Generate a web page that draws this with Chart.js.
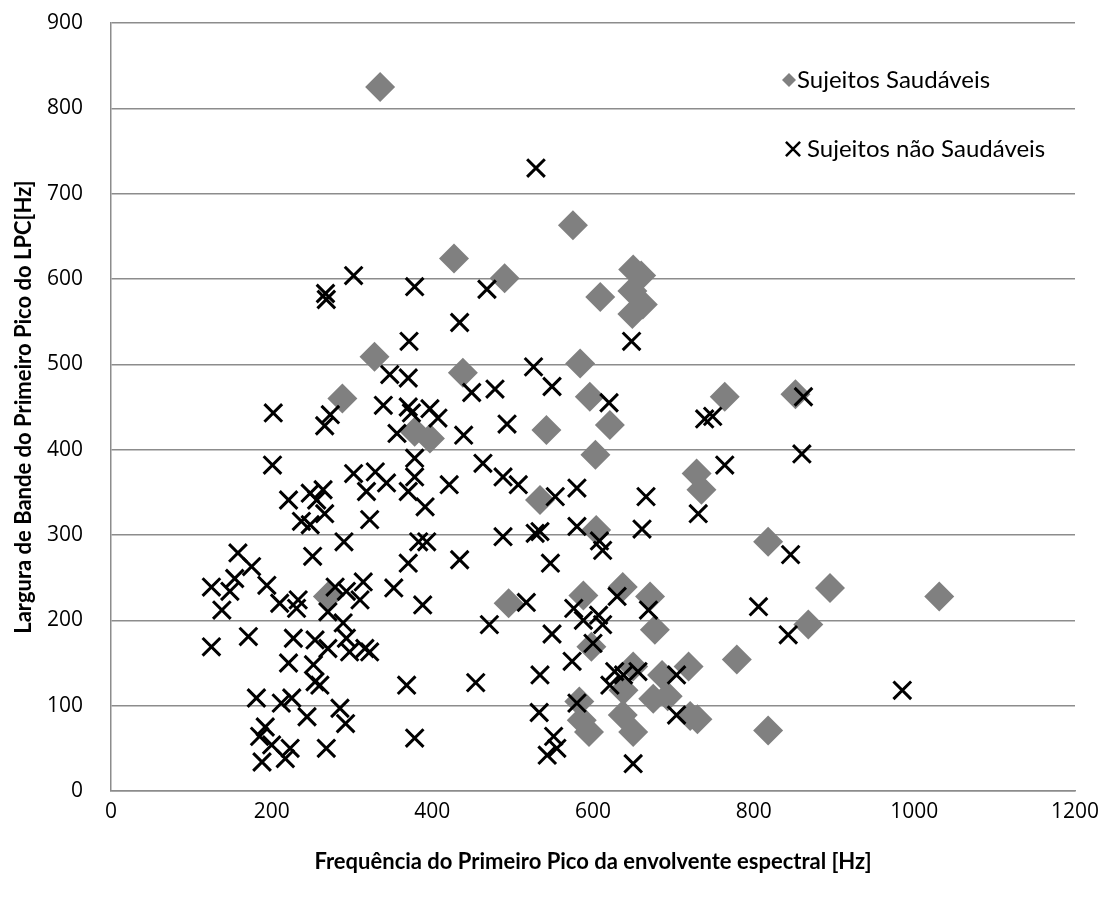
<!DOCTYPE html>
<html>
<head>
<meta charset="utf-8">
<script src="https://cdn.jsdelivr.net/npm/chart.js@4.4.1/dist/chart.umd.min.js"></script>
<style>
  html, body { margin: 0; padding: 0; background: #ffffff; }
  #wrap { width: 1104px; height: 901px; position: relative; }
</style>
</head>
<body>
<div id="wrap"><canvas id="c" width="1104" height="901"></canvas></div>
<script>
// ---- Data ----
const seriesNames = ['Sujeitos Saudáveis', 'Sujeitos não Saudáveis'];

const healthyX = [335, 575, 427, 490, 650, 660, 649, 609, 662, 649,
                  328, 438, 584, 288, 596, 378, 397, 542, 621, 603,
                  764, 852, 534, 604, 818, 729, 735, 495, 588, 637,
                  671, 677, 598, 650, 686, 719, 675, 693, 637, 650,
                  595, 583, 586, 721, 730, 779, 818, 868, 895, 1031,
                  270, 638];
const healthyY = [825, 663, 624, 601, 611, 604, 586, 579, 570, 559,
                  509, 490, 501, 460, 462, 421, 413, 423, 429, 394,
                  462, 465, 341, 306, 292, 372, 353, 220, 229, 239,
                  228, 189, 169, 146, 136, 146, 108, 111, 89, 69,
                  69, 105, 83, 88, 84, 154, 71, 195, 238, 228,
                  228, 118];

const unhealthyX = [529, 267, 268, 302, 378, 468, 434, 371, 347, 370,
                    449, 478, 526, 549, 339, 370, 374, 397, 407, 356,
                    439, 493, 378, 378, 370, 391, 463, 488, 507, 421,
                    302, 329, 343, 318, 322, 553, 580, 488, 528, 534,
                    580, 290, 383, 393, 202, 273, 266, 201, 221, 248,
                    264, 256, 266, 237, 248, 158, 251, 175, 154, 125,
                    148, 194, 138, 210, 233, 231, 279, 270, 293, 289,
                    125, 171, 227, 254, 270, 293, 297, 221, 252, 254,
                    260, 181, 212, 225, 244, 285, 292, 192, 185, 200,
                    223, 217, 188, 268, 370, 434, 547, 314, 310, 352,
                    388, 316, 322, 368, 454, 378, 471, 517, 549, 534,
                    574, 576, 588, 600, 533, 580, 551, 555, 543, 612,
                    608, 846, 630, 669, 607, 612, 806, 843, 627, 638,
                    656, 621, 704, 704, 650, 648, 620, 739, 749, 862,
                    860, 764, 666, 661, 731, 985];
const unhealthyY = [730, 583, 576, 604, 591, 588, 549, 527, 488, 484,
                    467, 471, 497, 474, 452, 450, 443, 448, 437, 419,
                    417, 430, 390, 368, 351, 333, 384, 368, 359, 359,
                    372, 374, 361, 351, 318, 345, 355, 298, 302, 304,
                    310, 292, 292, 292, 443, 441, 428, 382, 341, 349,
                    353, 341, 325, 316, 312, 279, 275, 263, 249, 239,
                    234, 241, 212, 220, 224, 214, 239, 210, 234, 197,
                    169, 181, 179, 177, 167, 179, 163, 150, 148, 128,
                    124, 109, 103, 109, 87, 97, 79, 75, 64, 54,
                    50, 38, 34, 50, 267, 271, 267, 245, 224, 238,
                    218, 167, 163, 124, 127, 62, 195, 221, 184, 136,
                    152, 214, 200, 173, 92, 103, 64, 50, 42, 282,
                    293, 277, 228, 212, 206, 195, 216, 183, 140, 136,
                    140, 124, 136, 89, 32, 527, 455, 436, 439, 462,
                    395, 382, 345, 307, 325, 118];

const xTicks = [0, 200, 400, 600, 800, 1000, 1200];
const yTicks = [0, 100, 200, 300, 400, 500, 600, 700, 800, 900];
const xTitle = 'Frequência do Primeiro Pico da envolvente espectral [Hz]';
const yTitle = 'Largura de Bande do Primeiro Pico do LPC[Hz]';

// ---- Build datasets ----
const toPoints = (xs, ys) => xs.map((x, i) => ({ x: x, y: ys[i] }));

const GRAY = '#808080';
const GRID = '#8c8c8c';

const legendPlugin = {
  id: 'customLegend',
  afterDraw(chart) {
    const ctx = chart.ctx;
    const items = [
      { ds: chart.data.datasets[1], mx: 789, y: 80, tx: 797 },
      { ds: chart.data.datasets[0], mx: 793, y: 149, tx: 807 }
    ];
    ctx.save();
    items.forEach(it => {
      const style = {
        pointStyle: it.ds.pointStyle,
        radius: it.ds.legendRadius,
        borderWidth: it.ds.legendBorder,
        rotation: 0
      };
      ctx.fillStyle = it.ds.backgroundColor;
      ctx.strokeStyle = it.ds.borderColor;
      ctx.lineWidth = it.ds.legendBorder;
      Chart.helpers.drawPoint(ctx, style, it.mx, it.y);
      ctx.fillStyle = '#000000';
      ctx.font = '24px Lato';
      ctx.textBaseline = 'middle';
      ctx.textAlign = 'left';
      ctx.fillText(it.ds.label, it.tx, it.y);
    });
    ctx.restore();
  }
};

new Chart(document.getElementById('c'), {
  type: 'scatter',
  data: {
    datasets: [
      {
        label: seriesNames[1],
        data: toPoints(unhealthyX, unhealthyY),
        pointStyle: 'crossRot',
        pointRadius: 12.5,
        borderColor: '#000000',
        backgroundColor: '#000000',
        borderWidth: 3,
        pointHoverRadius: 12.5,
        legendRadius: 10,
        legendBorder: 2.5,
        order: 0
      },
      {
        label: seriesNames[0],
        data: toPoints(healthyX, healthyY),
        pointStyle: 'rectRot',
        pointRadius: 15,
        borderColor: GRAY,
        backgroundColor: GRAY,
        borderWidth: 0,
        pointHoverRadius: 15,
        legendRadius: 7,
        legendBorder: 0,
        order: 1
      }
    ]
  },
  options: {
    responsive: false,
    animation: false,
    devicePixelRatio: 1,
    layout: { padding: { left: 0, right: 29, top: 23, bottom: 0 } },
    plugins: {
      legend: { display: false },
      tooltip: { enabled: false }
    },
    scales: {
      x: {
        type: 'linear',
        min: 0, max: 1200,
        afterBuildTicks: (s) => { s.ticks = xTicks.map(v => ({ value: v })); },
        afterFit: (s) => { s.height = 110; s.paddingLeft = 0; s.paddingRight = 0; },
        grid: { display: false, drawTicks: false },
        border: { display: true, color: GRID, width: 1.5 },
        ticks: {
          color: '#000000',
          font: { family: 'Open Sans', size: 21 },
          padding: 8,
          maxRotation: 0,
          callback: (v) => String(v)
        },
        title: {
          display: true,
          text: xTitle,
          color: '#000000',
          font: { family: 'Lato', size: 22, weight: 'bold' },
          padding: { top: 0, bottom: 26 }
        }
      },
      y: {
        type: 'linear',
        min: 0, max: 900,
        afterBuildTicks: (s) => { s.ticks = yTicks.map(v => ({ value: v })); },
        afterFit: (s) => { s.width = 111; s.paddingTop = 0; s.paddingBottom = 0; },
        grid: { display: true, color: GRID, lineWidth: 1.5, drawTicks: false },
        border: { display: true, color: GRID, width: 1.5 },
        ticks: {
          color: '#000000',
          font: { family: 'Open Sans', size: 21 },
          padding: 28,
          callback: (v) => String(v)
        },
        title: {
          display: true,
          text: yTitle,
          color: '#000000',
          font: { family: 'Lato', size: 22, weight: 'bold' },
          padding: { top: 11, bottom: 0 }
        }
      }
    }
  },
  plugins: [legendPlugin]
});
</script>
</body>
</html>
